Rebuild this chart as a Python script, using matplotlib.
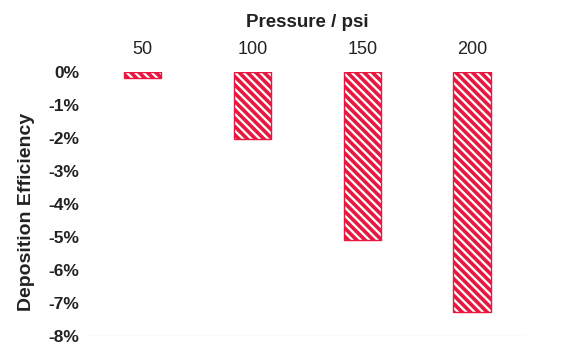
import matplotlib
matplotlib.use('Agg')
import matplotlib.pyplot as plt
from matplotlib.ticker import FuncFormatter

pressures = ['50', '100', '150', '200']
efficiency = [-0.2, -2.05, -5.1, -7.28]   # percent

plt.rcParams['font.family'] = ['Liberation Sans', 'DejaVu Sans']
plt.rcParams['hatch.linewidth'] = 2.6

barColor = '#e8173f'
textColor = '#222222'

fig = plt.figure(figsize=(5.81, 3.47), dpi=100)
ax = fig.add_axes([0.151, 0.032, 0.756, 0.761])

x = range(len(pressures))
ax.bar(x, efficiency, width=0.34, facecolor='white', edgecolor=barColor,
       hatch='\\\\\\\\', linewidth=1.0, zorder=3)

ax.set_ylim(-8, 0)
ax.set_xlim(-0.5, len(pressures) - 0.5)
ax.set_yticks(range(-8, 1))
ax.yaxis.set_major_formatter(FuncFormatter(lambda v, p: '%d%%' % v))
ax.axhline(-8, color='#eeeeee', linewidth=1, zorder=1)

ax.xaxis.tick_top()
ax.xaxis.set_label_position('top')
ax.set_xticks(list(x))
ax.set_xticklabels(pressures, fontsize=13, color=textColor)
ax.set_xlabel('Pressure / psi', fontsize=13.5, fontweight='bold', color=textColor, labelpad=10)
ax.set_ylabel('Deposition Efficiency', fontsize=14, fontweight='bold', color=textColor)
ax.yaxis.set_label_coords(-0.12, 0.47)

for lab in ax.get_yticklabels():
    lab.set_fontweight('bold')
    lab.set_fontsize(12.5)
    lab.set_color(textColor)

ax.tick_params(axis='both', length=0)
ax.tick_params(axis='x', pad=10)
ax.tick_params(axis='y', pad=6)

for s in ax.spines.values():
    s.set_visible(False)

plt.savefig('out.png', dpi=100)
plt.close('all')
